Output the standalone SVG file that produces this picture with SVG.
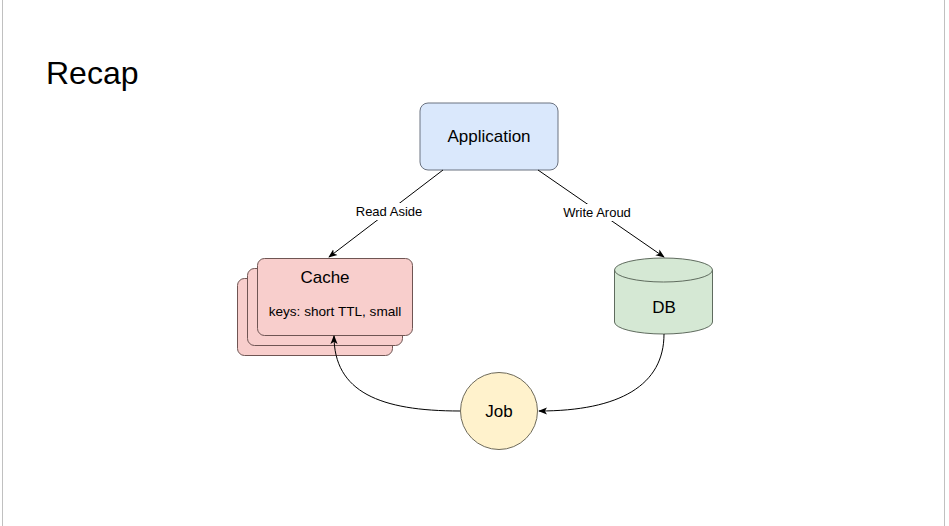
<svg xmlns="http://www.w3.org/2000/svg" width="949" height="526" viewBox="0 0 949 526">
<defs>
<style>
text{font-family:"Liberation Sans",Arial,sans-serif;fill:#000}
.lbl{font-size:13px;text-anchor:middle}
.node{font-size:17px;text-anchor:middle}
.edge{fill:none;stroke:#000;stroke-width:1}
.cache{fill:#f8cecc;stroke:#6f5553;stroke-width:1}
</style>
<marker id="arr" viewBox="0 0 10 10" refX="9" refY="5" markerWidth="9" markerHeight="9" orient="auto" markerUnits="userSpaceOnUse">
<path d="M0,1 L10,5 L0,9 L2.5,5 Z" fill="#000"/>
</marker>
</defs>
<rect x="0" y="0" width="949" height="526" fill="#fff"/>
<line x1="2.5" y1="0" x2="2.5" y2="526" stroke="#c0c0c0"/>
<line x1="944.5" y1="0" x2="944.5" y2="526" stroke="#c0c0c0"/>
<text x="46" y="84" style="font-size:32px">Recap</text>
<g id="application">
<rect x="420" y="103" width="138" height="67" rx="8" fill="#dae8fc" stroke="#6b7280"/>
<text class="node" x="489" y="142">Application</text>
</g>
<g id="cache">
<rect class="cache" x="237.5" y="278.5" width="155" height="77" rx="7"/>
<rect class="cache" x="247.5" y="268.5" width="155" height="77" rx="7"/>
<rect class="cache" x="257.5" y="258.5" width="155" height="77" rx="7"/>
<text class="node" x="325" y="283">Cache</text>
<text x="335" y="316" style="font-size:13.6px;text-anchor:middle">keys: short TTL, small</text>
</g>
<g id="db">
<path d="M614.5 270 A49 12 0 0 1 712.5 270 L712.5 322 A49 12 0 0 1 614.5 322 Z" fill="#d5e8d4" stroke="#5f6b5e"/>
<path d="M614.5 270 A49 12 0 0 0 712.5 270" fill="none" stroke="#5f6b5e"/>
<text class="node" x="664" y="313">DB</text>
</g>
<g id="job">
<circle cx="499" cy="411" r="38.5" fill="#fff2cc" stroke="#6e6a5a"/>
<text class="node" x="499" y="417">Job</text>
</g>
<g id="edges">
<line class="edge" x1="443" y1="170" x2="329" y2="257" marker-end="url(#arr)"/>
<line class="edge" x1="538" y1="170" x2="664" y2="257" marker-end="url(#arr)"/>
<path class="edge" d="M664 334 C664 385 620 411 539 411" marker-end="url(#arr)"/>
<path class="edge" d="M460 411 C380 411 334 392 334 336" marker-end="url(#arr)"/>
<rect x="352" y="203" width="74" height="17" fill="#fff"/>
<text class="lbl" x="389" y="216">Read Aside</text>
<rect x="558" y="204" width="78" height="17" fill="#fff"/>
<text class="lbl" x="597" y="217">Write Aroud</text>
</g>
</svg>
